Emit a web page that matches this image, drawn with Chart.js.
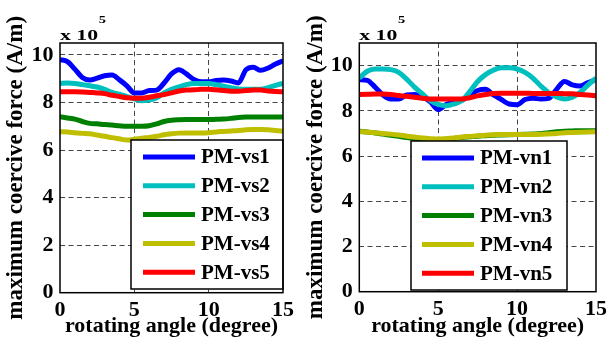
<!DOCTYPE html>
<html>
<head>
<meta charset="utf-8">
<script src="https://cdn.jsdelivr.net/npm/chart.js@4.4.0/dist/chart.umd.min.js"></script>
<style>
  html, body { margin: 0; padding: 0; background: #fff; }
  #wrap { position: relative; width: 611px; height: 340px; }
  canvas { position: absolute; top: 0; }
</style>
</head>
<body>
<div id="wrap">
  <canvas id="left" width="305" height="340" style="left:0"></canvas>
  <canvas id="right" width="306" height="340" style="left:305px"></canvas>
</div>
<script>
// sudut putar (derajat)
const angles = [0, 0.5, 1, 1.5, 2, 2.5, 3, 3.5, 4, 4.5, 5, 5.5, 6, 6.5, 7, 7.5,
  8, 8.5, 9, 9.5, 10, 10.5, 11, 11.5, 12, 12.5, 13, 13.5, 14, 14.5, 15];

const xTicks = [0, 5, 10, 15];
const yTicks = [0, 2, 4, 6, 8, 10];

const seriesColors = ['#0000ff', '#00bfbf', '#008000', '#bfbf00', '#ff0000'];

// panel kiri: PM-vs (x 10^5 A/m)
const vsLabels = ['PM-vs1', 'PM-vs2', 'PM-vs3', 'PM-vs4', 'PM-vs5'];
const vs1 = [9.8, 9.72, 9.4, 9.05, 8.94, 9.02, 9.12, 9.15, 8.95, 8.7, 8.4, 8.4, 8.5, 8.52, 8.82, 9.2,
  9.38, 9.2, 8.97, 8.87, 8.87, 8.92, 8.94, 8.9, 8.82, 9.37, 9.48, 9.35, 9.45, 9.62, 9.75];
const vs2 = [8.8, 8.82, 8.8, 8.75, 8.7, 8.65, 8.55, 8.42, 8.35, 8.25, 8.15, 8.07, 8.1, 8.2, 8.4, 8.55,
  8.65, 8.75, 8.8, 8.8, 8.8, 8.75, 8.68, 8.62, 8.57, 8.55, 8.55, 8.55, 8.62, 8.72, 8.8];
const vs3 = [7.4, 7.35, 7.3, 7.2, 7.12, 7.1, 7.07, 7.05, 7.02, 7.0, 7.0, 7.0, 7.02, 7.1, 7.2, 7.25,
  7.27, 7.28, 7.28, 7.28, 7.28, 7.29, 7.3, 7.33, 7.37, 7.39, 7.39, 7.39, 7.39, 7.39, 7.39];
const vs4 = [6.77, 6.76, 6.73, 6.7, 6.68, 6.63, 6.58, 6.52, 6.47, 6.42, 6.45, 6.5, 6.53, 6.58, 6.64, 6.68,
  6.71, 6.72, 6.72, 6.72, 6.73, 6.76, 6.78, 6.8, 6.82, 6.85, 6.86, 6.86, 6.85, 6.82, 6.79];
const vs5 = [8.45, 8.45, 8.45, 8.44, 8.42, 8.4, 8.37, 8.3, 8.25, 8.2, 8.18, 8.18, 8.22, 8.28, 8.33, 8.4,
  8.48, 8.52, 8.53, 8.55, 8.55, 8.53, 8.5, 8.47, 8.47, 8.5, 8.52, 8.52, 8.48, 8.46, 8.45];

// panel kanan: PM-vn
const vnLabels = ['PM-vn1', 'PM-vn2', 'PM-vn3', 'PM-vn4', 'PM-vn5'];
const vn1 = [9.38, 9.35, 9.05, 8.7, 8.52, 8.52, 8.7, 8.72, 8.64, 8.4, 8.05, 8.28, 8.4, 8.47, 8.7, 8.9,
  8.95, 8.7, 8.5, 8.3, 8.27, 8.5, 8.56, 8.52, 8.55, 8.95, 9.3, 9.15, 9.1, 9.25, 9.38];
const vn2 = [9.45, 9.75, 9.85, 9.85, 9.82, 9.7, 9.4, 9.05, 8.75, 8.45, 8.28, 8.22, 8.3, 8.45, 8.85, 9.3,
  9.6, 9.8, 9.9, 9.9, 9.85, 9.7, 9.45, 9.1, 8.8, 8.62, 8.52, 8.6, 8.82, 9.15, 9.45];
const vn3 = [7.1, 7.06, 7.02, 6.97, 6.92, 6.87, 6.82, 6.78, 6.75, 6.73, 6.72, 6.74, 6.78, 6.82, 6.85, 6.88,
  6.9, 6.92, 6.93, 6.94, 6.95, 6.96, 6.97, 7.0, 7.03, 7.07, 7.1, 7.11, 7.12, 7.12, 7.12];
const vn4 = [7.08, 7.06, 7.03, 7.0, 6.97, 6.93, 6.88, 6.84, 6.8, 6.77, 6.75, 6.77, 6.8, 6.84, 6.87, 6.9,
  6.92, 6.94, 6.95, 6.95, 6.95, 6.95, 6.95, 6.96, 6.98, 7.0, 7.03, 7.04, 7.05, 7.06, 7.07];
const vn5 = [8.72, 8.73, 8.74, 8.74, 8.72, 8.68, 8.64, 8.6, 8.56, 8.52, 8.52, 8.52, 8.52, 8.52, 8.58, 8.66,
  8.72, 8.77, 8.78, 8.78, 8.78, 8.78, 8.77, 8.77, 8.77, 8.77, 8.76, 8.75, 8.72, 8.7, 8.67];

const FONT = '"Liberation Serif", "Times New Roman", serif';

// plugin: kotak legenda, bingkai sumbu, label x 10^5
const framePlugin = {
  id: 'frame',
  afterDatasetsDraw(chart, args, opts) {
    const ctx = chart.ctx;
    const a = chart.chartArea;
    const b = opts.box;
    ctx.save();
    // legenda
    ctx.fillStyle = '#fff';
    ctx.fillRect(b.x, b.y, b.w, b.h);
    ctx.strokeStyle = '#000';
    ctx.lineWidth = 1.5;
    ctx.strokeRect(b.x, b.y, b.w, b.h);
    ctx.font = 'bold 21px ' + FONT;
    ctx.textBaseline = 'middle';
    chart.data.datasets.forEach((ds, i) => {
      const y = b.y + 17 + i * 28.8;
      ctx.strokeStyle = ds.borderColor;
      ctx.lineWidth = 5;
      ctx.beginPath();
      ctx.moveTo(b.x + b.lineX, y);
      ctx.lineTo(b.x + b.lineX + 52, y);
      ctx.stroke();
      ctx.fillStyle = '#000';
      ctx.fillText(ds.label, b.x + b.lineX + 58, y + 1);
    });
    // bingkai
    ctx.strokeStyle = '#000';
    ctx.lineWidth = 1.5;
    ctx.strokeRect(a.left, a.top, a.right - a.left, a.bottom - a.top);
    // x 10^5
    ctx.fillStyle = '#000';
    ctx.textBaseline = 'alphabetic';
    ctx.translate(a.left, a.top - 3);
    ctx.scale(1.45, 1);
    ctx.font = 'bold 15px ' + FONT;
    ctx.fillText('x 10', 0, 0);
    const w = ctx.measureText('x 10').width;
    ctx.font = 'bold 10px ' + FONT;
    ctx.fillText('5', w + 0.5, -17);
    ctx.restore();
  }
};

function makeDatasets(labels, series) {
  return series.map((vals, i) => ({
    label: labels[i],
    data: angles.map((x, j) => ({ x: x, y: vals[j] })),
    borderColor: seriesColors[i],
    backgroundColor: seriesColors[i],
    borderWidth: 5,
    pointRadius: 0,
    fill: false,
    cubicInterpolationMode: 'monotone',
    order: series.length - i
  }));
}

function makeChart(id, labels, series, yMax, cfg) {
  const gridColor = skip => c => skip.includes(c.tick.value) ? 'rgba(0,0,0,0)' : '#474747';
  return new Chart(document.getElementById(id), {
    type: 'line',
    data: { datasets: makeDatasets(labels, series) },
    options: {
      responsive: false,
      animation: false,
      devicePixelRatio: 1,
      events: [],
      layout: { padding: { left: 0, top: 43, right: cfg.padRight, bottom: 0 } },
      scales: {
        x: {
          type: 'linear', min: 0, max: 15,
          afterBuildTicks: s => { s.ticks = xTicks.map(v => ({ value: v })); },
          afterFit: s => { s.height = cfg.xHeight; },
          ticks: { autoSkip: false, maxRotation: 0, padding: 4, color: '#000',
            font: { family: FONT, size: 22, weight: 'bold' } },
          grid: { color: gridColor([0, 15]), lineWidth: 1, drawTicks: false },
          border: { display: false, dash: [5, 3.5] },
          title: { display: true, text: 'rotating angle (degree)', color: '#000',
            padding: { top: 0, bottom: 3 },
            font: { family: FONT, size: 22, weight: 'bold', lineHeight: 1 } }
        },
        y: {
          min: 0, max: yMax,
          afterBuildTicks: s => { s.ticks = yTicks.map(v => ({ value: v })); },
          afterFit: s => { s.width = cfg.yWidth; },
          ticks: { padding: 6.5, color: '#000',
            font: { family: FONT, size: 22, weight: 'bold' } },
          grid: { color: gridColor([0]), lineWidth: 1, drawTicks: false },
          border: { display: false, dash: [5, 3.5] },
          title: { display: true, text: 'maximum coercive force (A/m)', color: '#000',
            padding: { top: cfg.titlePad, bottom: 0 },
            font: { family: FONT, size: 23, weight: 'bold', lineHeight: 1 } }
        }
      },
      plugins: {
        legend: { display: false },
        tooltip: { enabled: false },
        frame: { box: cfg.box }
      }
    },
    plugins: [framePlugin]
  });
}

makeChart('left', vsLabels, [vs1, vs2, vs3, vs4, vs5], 10.5,
  { padRight: 22, xHeight: 47.3, yWidth: 60, titlePad: 4.5,
    box: { x: 131, y: 140, w: 152, h: 149, lineX: 12 } });

makeChart('right', vnLabels, [vn1, vn2, vn3, vn4, vn5], 11,
  { padRight: 13, xHeight: 48.3, yWidth: 54.3, titlePad: 0,
    box: { x: 106, y: 141, w: 156, h: 149, lineX: 11 } });
</script>
</body>
</html>
